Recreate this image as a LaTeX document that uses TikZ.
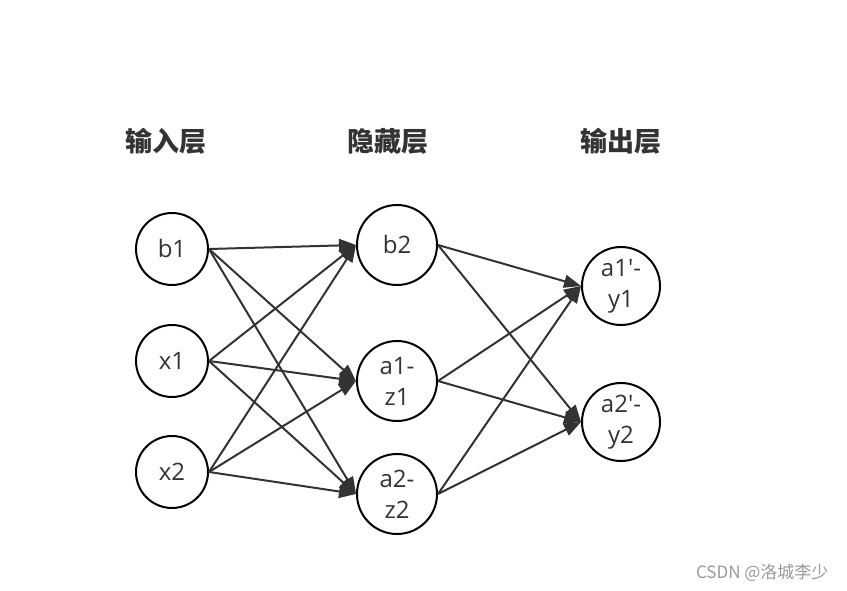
\documentclass[tikz,border=0pt]{standalone}
\usepackage{fontspec}
\setmainfont{Open Sans}
\newfontfamily\nodefont{Open Sans}
\newfontfamily\cjk{Noto Sans CJK SC}
\usetikzlibrary{arrows.meta}
\definecolor{ink}{HTML}{333333}
\definecolor{wm}{HTML}{9A9A9A}
\tikzset{
  neuron/.style={circle, draw=black, line width=2pt, fill=white, inner sep=0pt,
    text=ink, align=center, font=\nodefont\fontsize{24}{31}\selectfont},
  inneuron/.style={neuron, minimum size=72pt},
  hidneuron/.style={neuron, minimum size=80pt},
  outneuron/.style={neuron, minimum size=78pt},
  header/.style={text=ink, font=\cjk\bfseries\fontsize{27}{30}\selectfont},
  conn/.style={draw=ink, line width=2pt, -{Triangle[length=17pt,width=13pt]}},
}
\begin{document}
\begin{tikzpicture}[x=1pt,y=-1pt]
\useasboundingbox (0,0) rectangle (847,591);
\fill[white] (0,0) rectangle (847,591);
\node[header] (h1) at (166,141) {输入层};
\node[header] (h2) at (388,141) {隐藏层};
\node[header] (h3) at (621,141) {输出层};
\node[inneuron] (b1) at (172,249) {b1};
\node[inneuron] (x1) at (172,361) {x1};
\node[inneuron] (x2) at (172,472) {x2};
\node[hidneuron] (b2) at (397,245) {b2};
\node[hidneuron] (h1n) at (397,381) {a1-\\z1};
\node[hidneuron] (h2n) at (397,494) {a2-\\z2};
\node[outneuron] (o1) at (621,286) {a1'-\\y1};
\node[outneuron] (o2) at (621,422) {a2'-\\y2};
\foreach \s in {b1,x1,x2}{
  \foreach \t in {b2,h1n,h2n}{
    \draw[conn] (\s.east) -- (\t.west);
  }
}
\foreach \s in {b2,h1n,h2n}{
  \foreach \t in {o1,o2}{
    \draw[conn] (\s.east) -- (\t.west);
  }
}
\node[text=wm, font=\cjk\fontsize{17}{18}\selectfont, anchor=east] (wmk) at (832,573) {CSDN @洛城李少};
\end{tikzpicture}
\end{document}
